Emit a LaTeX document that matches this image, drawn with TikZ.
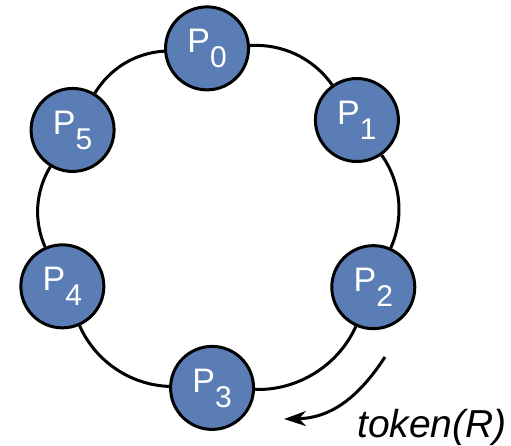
\documentclass[tikz,border=0pt]{standalone}
\usepackage{fontspec}
\setmainfont{Liberation Sans}
\usetikzlibrary{arrows.meta,calc}
\definecolor{pblue}{HTML}{5A7DB5}
\tikzset{
  proc/.style={circle, draw=black, line width=3pt, fill=pblue, minimum size=83pt, inner sep=0pt, text=white},
  ring/.style={draw=black, line width=3pt, looseness=0.915},
  tokarrow/.style={draw=black, line width=3pt, -{Stealth[length=22pt,width=15pt,inset=7pt]}},
}
\newcommand{\procname}[1]{{\fontsize{34}{34}\selectfont P\raisebox{-15pt}{\smash{\fontsize{30}{30}\selectfont #1}}}}
\begin{document}
\begin{tikzpicture}[x=1pt,y=1pt]
\useasboundingbox (0,0) rectangle (511,-445);
\coordinate (C) at (218,-218);
\node[proc] (P0) at ($(C)+(93.7:170)$) {\procname{0}};
\node[proc] (P1) at ($(C)+(35.2:170)$) {\procname{1}};
\node[proc] (P2) at ($(C)+(-24:170)$) {\procname{2}};
\node[proc] (P3) at ($(C)+(-92:170)$) {\procname{3}};
\node[proc] (P4) at ($(C)+(203.7:170)$) {\procname{4}};
\node[proc] (P5) at ($(C)+(148.8:170)$) {\procname{5}};
\draw[ring] (P0) to[bend left=29.25] (P1);
\draw[ring] (P1) to[bend left=29.6] (P2);
\draw[ring] (P2) to[bend left=34] (P3);
\draw[ring] (P3) to[bend left=32.15] (P4);
\draw[ring] (P4) to[bend left=27.45] (P5);
\draw[ring] (P5) to[bend left=27.55] (P0);
\coordinate (ts) at (385,-357);
\coordinate (te) at (284,-419);
\draw[tokarrow] (ts) .. controls (362,-392) and (335,-418) .. (te);
\node[anchor=base, inner sep=0pt] (tok) at (432,-437) {\fontsize{39}{39}\selectfont\itshape token(R)};
\end{tikzpicture}
\end{document}
